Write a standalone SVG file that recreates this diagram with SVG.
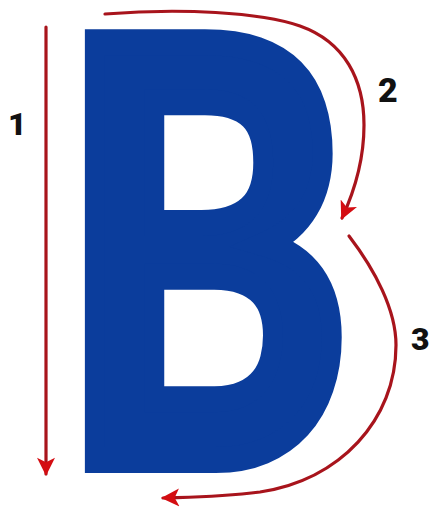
<svg xmlns="http://www.w3.org/2000/svg" width="429" height="509" viewBox="0 0 429 509">
<style>
.arrow{fill:none;stroke:#a8141c;stroke-width:3.2;stroke-linecap:round;marker-end:url(#head)}
.num{font-family:Roboto,"Liberation Sans",sans-serif;font-weight:900;fill:#111}
.letter{font-family:Lato,"Liberation Sans",sans-serif;font-weight:700;fill:#0b3d9c;stroke:#0b3d9c;stroke-width:26;stroke-linejoin:miter}
</style>
<defs>
<marker id="head" viewBox="0 0 10 10" refX="9" refY="5" markerUnits="userSpaceOnUse" markerWidth="20" markerHeight="18" orient="auto">
<path d="M0,0 L10,5 L0,10 L2.5,5 z" fill="#d40d12"/>
</marker>
</defs>
<rect width="429" height="509" fill="#fff"/>
<g id="letter-b" transform="translate(59.2,0) scale(0.765,1)">
<text class="letter" x="0" y="460" font-size="578">B</text>
</g>
<g id="connectors">
<path id="stroke-1" class="arrow" d="M46,27 L46,474"/>
<path id="stroke-2" class="arrow" d="M105,14 C180,8 260,12 300,26 C345,42 364,80 364,125 C364,160 355,190 342,218"/>
<path id="stroke-3" class="arrow" d="M349,236 C375,270 396,310 396,345 C396,420 340,480 260,492 C220,497 195,497 163,498"/>
</g>
<g id="label-1"><text class="num" x="8" y="135" font-size="32">1</text></g>
<g id="label-2"><text class="num" x="378" y="102" font-size="34">2</text></g>
<g id="label-3"><text class="num" x="411" y="350" font-size="32">3</text></g>
</svg>
